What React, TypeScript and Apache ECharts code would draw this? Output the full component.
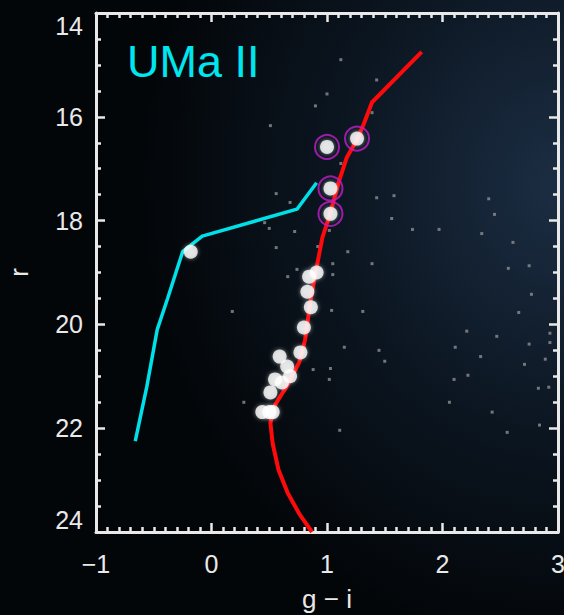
import React, { useEffect, useRef } from "react";
import * as echarts from "echarts";

// Isochrone (red) : [g-i, r]
const isochrone: [number, number][] = [
  [1.82, 14.75], [1.39, 15.72], [1.32, 16.13], [1.26, 16.44], [1.17, 16.79],
  [1.10, 17.27], [1.06, 17.6], [1.02, 17.92], [0.96, 18.33], [0.91, 18.9],
  [0.86, 19.5], [0.81, 20.3], [0.76, 20.73], [0.65, 21.2], [0.55, 21.55],
  [0.51, 21.9], [0.53, 22.3], [0.58, 22.8], [0.66, 23.25], [0.76, 23.65],
  [0.87, 24.0],
];

// Horizontal branch (cyan)
const horizontalBranch: [number, number][] = [
  [-0.66, 22.25], [-0.56, 21.2], [-0.47, 20.1], [-0.38, 19.5], [-0.25, 18.6],
  [-0.08, 18.3], [0.74, 17.78], [0.91, 17.27],
];

// Member stars (white)
const members: [number, number][] = [
  [-0.18, 18.6],
  [1.0, 16.58], [1.26, 16.42], [1.03, 17.38], [1.03, 17.87],
  [0.91, 19.0], [0.845, 19.08], [0.83, 19.37], [0.86, 19.67], [0.80, 20.06],
  [0.77, 20.54], [0.59, 20.62], [0.655, 20.81], [0.68, 21.0], [0.55, 21.06],
  [0.61, 21.12], [0.51, 21.31], [0.44, 21.69], [0.50, 21.69], [0.53, 21.69],
];

// Circled (magenta) stars
const circled: [number, number][] = [
  [1.0, 16.58], [1.26, 16.42], [1.03, 17.38], [1.03, 17.87],
];

// Field stars (faint grey)
const fieldStars: [number, number][] = [
  [1.12, 14.9], [1.43, 15.29], [1.0, 15.56], [0.9, 15.79], [1.39, 15.92],
  [1.12, 16.9], [1.43, 17.56], [1.58, 17.52], [2.40, 17.58], [2.45, 17.88],
  [1.56, 17.96], [1.74, 18.17], [1.97, 18.17], [2.34, 18.25], [2.61, 18.42],
  [0.72, 18.21], [1.02, 18.19], [0.68, 17.65], [1.18, 18.6], [1.39, 18.83],
  [1.05, 18.83], [1.05, 19.04], [0.92, 18.5], [0.74, 18.94], [0.66, 19.08],
  [2.57, 18.92], [2.75, 18.87], [2.77, 19.42],
  [0.51, 16.17], [0.56, 17.48], [0.46, 18.04], [0.5, 18.15], [0.56, 18.52],
  [0.18, 19.75], [0.28, 21.5],
  [1.04, 19.73], [1.31, 19.75], [2.66, 19.77], [2.21, 20.13], [2.47, 20.23],
  [1.15, 20.44], [1.45, 20.5], [2.11, 20.44], [2.75, 20.38], [2.93, 20.17],
  [2.93, 20.35], [1.5, 20.71], [2.33, 20.62], [2.89, 20.67], [0.88, 20.87],
  [1.03, 20.85], [1.02, 21.06], [2.1, 21.06], [2.22, 20.98], [2.71, 20.77],
  [2.83, 21.23], [2.92, 21.21], [2.06, 21.5], [2.43, 21.69], [2.84, 21.94],
  [1.11, 22.04], [2.56, 22.08],
];

const xTicks = { min: -1, max: 3, interval: 1 };
const yTicks = { min: 14, max: 24, interval: 2 };

const FONT = "Liberation Sans, Arial, sans-serif";
const WHITE = "#e9e9e9";

export default function App() {
  const ref = useRef<HTMLDivElement>(null);
  useEffect(() => {
    if (!ref.current) return;
    const chart = echarts.init(ref.current, undefined, { renderer: "svg" });
    const axisLine = { show: true, onZero: false, lineStyle: { color: WHITE, width: 3 } };
    const majorTick = { show: true, inside: true, length: 9, lineStyle: { color: WHITE, width: 2.5 } };
    const minorTickX = { show: true, splitNumber: 10, length: 5, lineStyle: { color: WHITE, width: 2.5 } };
    const minorTickY = { show: true, splitNumber: 4, length: 5, lineStyle: { color: WHITE, width: 2.5 } };
    const fmt = (v: number) => String(v).replace("-", "\u2212");
    chart.setOption({
      animation: false,
      backgroundColor: new echarts.graphic.RadialGradient(1.0, 0.3, 0.75, [
        { offset: 0, color: "#1c2e44" },
        { offset: 0.55, color: "#0b1520" },
        { offset: 1, color: "#030609" },
      ]),
      title: {
        text: "UMa II",
        left: 122,
        top: 34,
        textStyle: { color: "#00e6ee", fontSize: 45, fontWeight: "normal", fontFamily: FONT },
      },
      grid: { left: 96, right: 6, top: 13, bottom: 83, outerBoundsMode: "none", containLabel: false },
      xAxis: [
        {
          type: "value", ...xTicks, position: "bottom",
          name: "g \u2212 i", nameLocation: "middle", nameGap: 54,
          nameTextStyle: { color: WHITE, fontSize: 26, fontFamily: FONT },
          axisLine, axisTick: majorTick, minorTick: minorTickX,
          axisLabel: { color: WHITE, fontSize: 25, fontFamily: FONT, margin: 19, formatter: fmt },
          splitLine: { show: false },
        },
        {
          type: "value", ...xTicks, position: "top",
          axisLine, axisTick: majorTick, minorTick: minorTickX,
          axisLabel: { show: false }, splitLine: { show: false },
        },
      ],
      yAxis: [
        {
          type: "value", ...yTicks, inverse: true, position: "left",
          name: "r", nameLocation: "middle", nameGap: 64, nameRotate: 90,
          nameTextStyle: { color: WHITE, fontSize: 26, fontFamily: FONT },
          axisLine, axisTick: majorTick, minorTick: minorTickY,
          axisLabel: {
            color: WHITE, fontSize: 25, fontFamily: FONT, margin: 13,
            verticalAlignMinLabel: "top", verticalAlignMaxLabel: "bottom",
          },
          splitLine: { show: false },
        },
        {
          type: "value", ...yTicks, inverse: true, position: "right",
          axisLine, axisTick: majorTick, minorTick: minorTickY,
          axisLabel: { show: false }, splitLine: { show: false },
        },
      ],
      series: [
        {
          type: "scatter", data: fieldStars, symbol: "rect", symbolSize: 3,
          itemStyle: { color: "#8e8e8e" }, z: 1,
        },
        {
          type: "line", data: isochrone, showSymbol: false, symbol: "none",
          lineStyle: { color: "#ff0a0a", width: 4 }, z: 3,
        },
        {
          type: "line", data: horizontalBranch, showSymbol: false, symbol: "none",
          lineStyle: { color: "#00e0e8", width: 3.5 }, z: 3,
        },
        {
          type: "scatter", data: members, symbol: "circle", symbolSize: 14,
          itemStyle: { color: "#ffffff", shadowBlur: 4, shadowColor: "rgba(255,255,255,0.6)" }, z: 4,
        },
        {
          type: "scatter", data: circled, symbol: "circle", symbolSize: 24,
          itemStyle: { color: "rgba(0,0,0,0)", borderColor: "#c21ec8", borderWidth: 2 }, z: 5,
        },
      ],
    });
    return () => chart.dispose();
  }, []);
  return (
    <div
      ref={ref}
      style={{ position: "absolute", left: 0, top: 0, width: 564, height: 615 }}
    />
  );
}
